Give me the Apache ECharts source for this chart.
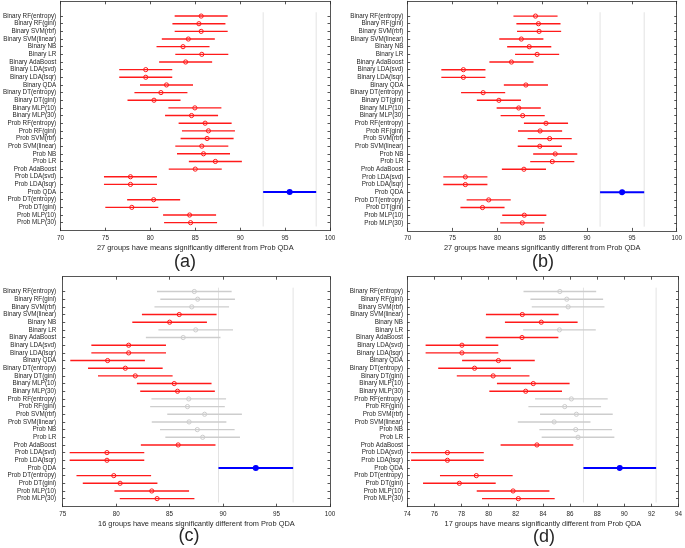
<!DOCTYPE html>
<html><head><meta charset="utf-8">
<script src="https://cdn.jsdelivr.net/npm/echarts@6/dist/echarts.min.js"></script>
<style>html,body{margin:0;padding:0;background:#fff}#c{width:685px;height:548px}</style>
</head><body><div id="c"></div>
<script>
const groupLabels = ['Binary RF(entropy)','Binary RF(gini)','Binary SVM(rbf)','Binary SVM(linear)','Binary NB','Binary LR','Binary AdaBoost','Binary LDA(svd)','Binary LDA(lsqr)','Binary QDA','Binary DT(entropy)','Binary DT(gini)','Binary MLP(10)','Binary MLP(30)',
 'Prob RF(entropy)','Prob RF(gini)','Prob SVM(rbf)','Prob SVM(linear)','Prob NB','Prob LR','Prob AdaBoost','Prob LDA(svd)','Prob LDA(lsqr)','Prob QDA','Prob DT(entropy)','Prob DT(gini)','Prob MLP(10)','Prob MLP(30)'];

const meansA = [85.66,85.41,85.66,84.23,83.64,85.73,83.93,79.49,79.49,81.80,81.18,80.41,84.96,84.59,
 86.10,86.47,86.32,85.73,85.92,87.24,85.00,77.79,77.79,95.51,80.37,77.94,84.37,84.48];
const halfA = 2.95;
const statusA = ['r','r','r','r','r','r','r','r','r','r','r','r','r','r','r','r','r','r','r','r','r','r','r','b','r','r','r','r'];

const meansB = [84.25,84.58,84.65,82.67,83.55,84.43,81.57,76.21,76.21,83.18,78.41,80.17,82.38,82.82,
 85.42,84.76,85.83,84.73,86.45,86.12,82.96,76.43,76.43,93.91,79.03,78.34,83.00,82.78];
const halfB = 2.46;
const statusB = ['r','r','r','r','r','r','r','r','r','r','r','r','r','r','r','r','r','r','r','r','r','r','r','b','r','r','r','r'];

const meansC = [87.31,87.62,87.07,85.90,85.00,87.44,86.27,81.17,81.17,79.20,80.86,81.79,85.43,85.74,
 86.79,86.67,88.27,86.82,87.59,88.09,85.80,79.14,79.14,93.06,79.78,80.37,83.33,83.83];
const halfC = 3.49;
const statusC = ['g','g','g','r','r','g','g','r','r','r','r','r','r','r','g','g','g','g','g','g','r','r','r','b','r','r','r','r'];

const meansD = [85.25,85.76,85.86,82.48,83.88,85.22,82.46,78.03,78.03,80.72,78.96,80.33,83.29,82.73,
 86.10,85.61,86.47,84.83,86.42,86.59,83.56,76.96,76.96,89.67,79.09,77.84,81.80,82.19];
const halfD = 2.68;
const statusD = ['g','g','g','r','r','g','r','r','r','r','r','r','r','r','g','g','g','g','g','g','r','r','r','b','r','r','r','r'];

const xTitles = ['27 groups have means significantly different from Prob QDA','27 groups have means significantly different from Prob QDA','16 groups have means significantly different from Prob QDA','17 groups have means significantly different from Prob QDA'];
const panelNames = ['(a)','(b)','(c)','(d)'];
const xRanges = [[70,100,5],[70,100,5],[75,100,5],[74,94,2]];

const panels = [
 {means:meansA, half:halfA, status:statusA, grid:{left:58, top:1.3, width:272, height:229.4}, label:[185,262], labelMargin:4.3},
 {means:meansB, half:halfB, status:statusB, grid:{left:407.7, top:1.3, width:272.3, height:229.6}, label:[543,262], labelMargin:4.3},
 {means:meansC, half:halfC, status:statusC, grid:{left:60.3, top:276.7, width:269.7, height:230}, label:[189,536], labelMargin:6.5},
 {means:meansD, half:halfD, status:statusD, grid:{left:407.3, top:276.7, width:272.7, height:230}, label:[544,537], labelMargin:4.3}
];

const FONT = 'Liberation Sans, Arial, Helvetica, sans-serif';
const TXT = '#262626';
const AX = '#2b2b2b';
const COLORS = {r:'#ff1a1a', g:'#cdcdcd', b:'#0000ff'};
const rowVals = groupLabels.map((_, i) => i + 1);
const Y_MIN = -0.93, Y_MAX = 29.05;

const option = {animation:false, backgroundColor:'#fff', grid:[], xAxis:[], yAxis:[], series:[], graphic:[]};

panels.forEach((p, k) => {
  option.grid.push(Object.assign({containLabel:false, show:false}, p.grid));
  const [xmin, xmax, xint] = xRanges[k];
  const xa = k * 2, ya = k * 2;
  option.xAxis.push({
    type:'value', gridIndex:k, min:xmin, max:xmax, interval:xint, position:'bottom',
    axisLine:{show:true, onZero:false, lineStyle:{color:AX, width:0.8}},
    axisTick:{show:true, inside:true, length:3, lineStyle:{color:AX, width:0.8}},
    axisLabel:{show:true, margin:4.5, fontSize:6.3, fontFamily:FONT, color:TXT},
    splitLine:{show:false},
    name:xTitles[k], nameLocation:'middle', nameGap:13.5,
    nameTextStyle:{fontSize:7.4, fontFamily:FONT, color:TXT}
  });
  option.xAxis.push({
    type:'value', gridIndex:k, min:xmin, max:xmax, interval:xint, position:'top',
    axisLine:{show:true, onZero:false, lineStyle:{color:AX, width:0.8}},
    axisTick:{show:true, inside:true, length:3, lineStyle:{color:AX, width:0.8}},
    axisLabel:{show:false}, splitLine:{show:false}
  });
  option.yAxis.push({
    type:'value', gridIndex:k, inverse:true, min:Y_MIN, max:Y_MAX, position:'left',
    axisLine:{show:true, onZero:false, lineStyle:{color:AX, width:0.8}},
    axisTick:{show:true, inside:true, length:2.5, customValues:rowVals, lineStyle:{color:AX, width:0.8}},
    axisLabel:{show:true, customValues:rowVals, margin:p.labelMargin, fontSize:6.3, fontFamily:FONT, color:TXT,
      formatter:(v) => groupLabels[Math.round(v) - 1] || ''},
    splitLine:{show:false}
  });
  option.yAxis.push({
    type:'value', gridIndex:k, inverse:true, min:Y_MIN, max:Y_MAX, position:'right',
    axisLine:{show:true, onZero:false, lineStyle:{color:AX, width:0.8}},
    axisTick:{show:true, inside:true, length:2.5, customValues:rowVals, lineStyle:{color:AX, width:0.8}},
    axisLabel:{show:false}, splitLine:{show:false}
  });

  // reference vertical lines at the bounds of the selected group's interval
  const bi = p.status.indexOf('b');
  const lo = p.means[bi] - p.half, hi = p.means[bi] + p.half;
  [lo, hi].forEach(v => {
    option.series.push({
      type:'line', xAxisIndex:xa, yAxisIndex:ya, symbol:'none', silent:true, z:1,
      lineStyle:{color:'#e3e3e3', width:1},
      data:[[v, 0.5],[v, 28.5]]
    });
  });

  const half = p.half;
  option.series.push({
    type:'custom', xAxisIndex:xa, yAxisIndex:ya, z:5, silent:true,
    data:p.means.map((m, i) => [m, i + 1, ['r','g','b'].indexOf(p.status[i])]),
    renderItem:(params, api) => {
      const m = api.value(0), row = api.value(1), s = api.value(2);
      const col = [COLORS.r, COLORS.g, COLORS.b][s];
      const a = api.coord([m - half, row]);
      const b = api.coord([m + half, row]);
      const c = api.coord([m, row]);
      const isB = s === 2;
      return {type:'group', children:[
        {type:'line', shape:{x1:a[0], y1:a[1], x2:b[0], y2:b[1]}, style:{stroke:col, lineWidth:isB ? 2 : 1.4}},
        {type:'circle', shape:{cx:c[0], cy:c[1], r:isB ? 2.4 : 2.1}, style:{fill:isB ? col : null, stroke:col, lineWidth:isB ? 1.2 : 1}}
      ]};
    }
  });

  option.graphic.push({type:'text', x:p.label[0], y:p.label[1], style:{text:panelNames[k], font:'18px ' + FONT, fill:TXT, align:'center', verticalAlign:'middle'}});
});

const chart = echarts.init(document.getElementById('c'), null, {renderer:'canvas'});
chart.setOption(option);
</script></body></html>
